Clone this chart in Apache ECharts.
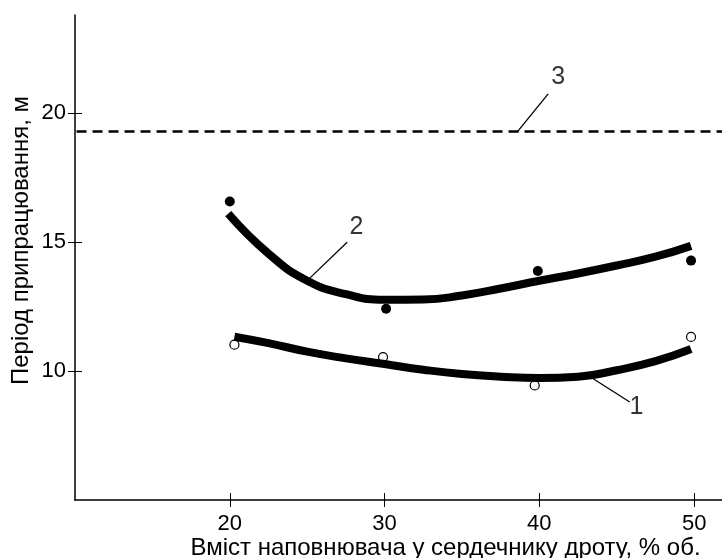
<!DOCTYPE html>
<html><head><meta charset="utf-8">
<script src="https://cdn.jsdelivr.net/npm/echarts@6/dist/echarts.min.js"></script>
<style>html,body{margin:0;padding:0;background:#fff}#c{width:722px;height:558px}</style>
</head><body><div id="c"></div>
<script>
const xTicks = [20, 30, 40, 50];
const yTicks = [10, 15, 20];
const xName = 'Вміст наповнювача у сердечнику дроту, % об.';
const yName = 'Період припрацювання, м';
// measured points
const pts1X = [20.3, 29.9, 39.7, 49.8];
const pts1Y = [11.02, 10.54, 9.44, 11.32];
const pts2X = [20.0, 30.1, 39.9, 49.8];
const pts2Y = [16.57, 12.41, 13.88, 14.28];
// fitted curves
const curve1X = [20.3, 22.5, 25, 27.5, 30, 32.5, 35, 37.5, 40, 42.5, 45, 47.5, 49.8];
const curve1Y = [11.33, 11.08, 10.75, 10.49, 10.27, 10.05, 9.88, 9.78, 9.73, 9.78, 10.03, 10.38, 10.85];
const curve2X = [19.9, 22.5, 25, 27.5, 30, 32.5, 35, 37.5, 40, 42.5, 45, 47.5, 49.8];
const curve2Y = [16.1, 14.55, 13.5, 12.98, 12.76, 12.77, 12.93, 13.2, 13.5, 13.78, 14.09, 14.43, 14.85];
// level 3
const line3X = [10.1, 51.8];
const line3Y = [19.28, 19.28];
// curve labels and leaders
const labelNames = ['1', '2', '3'];
const labelX = [46.27, 28.18, 41.21];
const labelY = [8.61, 15.58, 21.38];
const leaderX = [[45.84, 43.48], [27.58, 25.17], [40.57, 38.59]];
const leaderY = [[8.80, 9.70], [14.99, 13.60], [20.74, 19.28]];

const zip = (a, b) => a.map((v, i) => [v, b[i]]);
const FONT = '"Liberation Sans", Arial, sans-serif';
const chart = echarts.init(document.getElementById('c'), null, {renderer: 'canvas'});

const series = [
  {type: 'scatter', data: zip(pts1X, pts1Y), symbol: 'circle', symbolSize: 9, z: 2,
   itemStyle: {color: '#fff', borderColor: '#000', borderWidth: 1.2, opacity: 1}, silent: true},
  {type: 'scatter', data: zip(pts2X, pts2Y), symbol: 'circle', symbolSize: 10, z: 2,
   itemStyle: {color: '#000', opacity: 1}, silent: true},
  {type: 'line', data: zip(curve1X, curve1Y), smooth: 0.5, showSymbol: false, z: 3,
   lineStyle: {color: '#000', width: 8, cap: 'butt', join: 'round'}, silent: true},
  {type: 'line', data: zip(curve2X, curve2Y), smooth: 0.5, showSymbol: false, z: 3,
   lineStyle: {color: '#000', width: 8, cap: 'butt', join: 'round'}, silent: true},
  {type: 'line', data: zip(line3X, line3Y), showSymbol: false, z: 3,
   lineStyle: {color: '#000', width: 2.5, type: [10, 6]}, silent: true},
  {type: 'scatter', symbolSize: 0, z: 4, silent: true,
   data: labelNames.map((n, i) => ({name: n, value: [labelX[i], labelY[i]]})),
   label: {show: true, position: 'inside', formatter: '{b}', color: '#000', fontSize: 25, fontFamily: FONT}}
];
leaderX.forEach((xs, i) => {
  series.push({type: 'line', data: zip(xs, leaderY[i]), showSymbol: false, z: 4, silent: true,
    lineStyle: {color: '#000', width: 1.3}});
});

chart.setOption({
  animation: false,
  backgroundColor: '#fff',
  grid: {left: 75, right: 0, top: 15, bottom: 58, containLabel: false, outerBoundsMode: 'none'},
  xAxis: [{
    type: 'value', min: 10, max: 51.8, interval: 10,
    name: xName, nameLocation: 'middle', nameGap: 36, nameMoveOverlap: false,
    nameTextStyle: {color: '#000', fontSize: 24, fontFamily: FONT, padding: [0, 0, 0, 94]},
    axisLine: {show: true, onZero: false, lineStyle: {color: '#000', width: 1.5}},
    axisTick: {show: true, inside: false, length: 7, customValues: xTicks, lineStyle: {color: '#000', width: 1}},
    axisLabel: {show: true, customValues: xTicks, color: '#000', fontSize: 22, fontFamily: FONT, margin: 13,
      formatter: v => xTicks.includes(v) ? String(v) : ''},
    splitLine: {show: false}
  }, {
    type: 'value', min: 10, max: 51.8, interval: 10, position: 'bottom',
    axisLine: {show: false},
    axisTick: {show: true, inside: true, length: 7, customValues: xTicks, lineStyle: {color: '#000', width: 1}},
    axisLabel: {show: false}, splitLine: {show: false}
  }],
  yAxis: [{
    type: 'value', min: 5, max: 23.8, interval: 5,
    name: yName, nameLocation: 'middle', nameGap: 42, nameMoveOverlap: false,
    nameTextStyle: {color: '#000', fontSize: 24, fontFamily: FONT, padding: [0, 0, 0, 34]},
    axisLine: {show: true, onZero: false, lineStyle: {color: '#000', width: 1.5}},
    axisTick: {show: true, inside: false, length: 7, customValues: yTicks, lineStyle: {color: '#000', width: 1}},
    axisLabel: {show: true, customValues: yTicks, color: '#000', fontSize: 22, fontFamily: FONT, margin: 9,
      formatter: v => yTicks.includes(v) ? String(v) : ''},
    splitLine: {show: false}
  }, {
    type: 'value', min: 5, max: 23.8, interval: 5, position: 'left',
    axisLine: {show: false},
    axisTick: {show: true, inside: true, length: 7, customValues: yTicks, lineStyle: {color: '#000', width: 1}},
    axisLabel: {show: false}, splitLine: {show: false}
  }],
  series: series
});
</script></body></html>
